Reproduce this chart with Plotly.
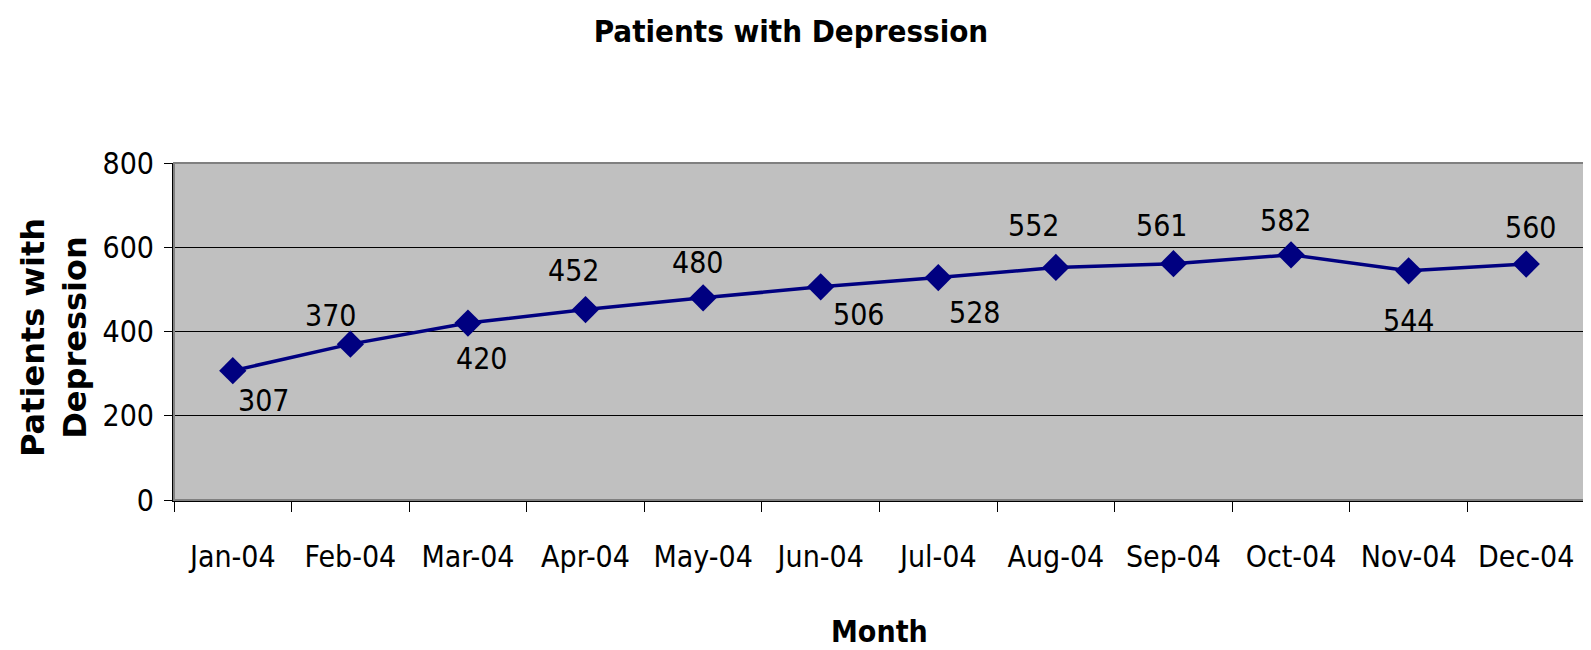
import plotly.graph_objects as go

months = ["Jan-04", "Feb-04", "Mar-04", "Apr-04", "May-04", "Jun-04",
          "Jul-04", "Aug-04", "Sep-04", "Oct-04", "Nov-04", "Dec-04"]
patients = [307, 370, 420, 452, 480, 506, 528, 552, 561, 582, 544, 560]

# label offsets (pixels, style only)
label_dx = [31, -19, 14, -11, -5, 38, 36, -22, -11, -5, 0, 5]
label_dy = [29, -28, 35, -39, -35, 27, 34, -41, -38, -34, 49, -36]

NARROW = "DejaVu Sans Condensed, Liberation Sans Narrow, Liberation Sans, Arial"

W, H = 1591, 650
OFF = 8  # default body margin of the html page
# desired page positions of plot area
PL, PR, PT, PB = 174, 1585, 163, 500
L = PL - OFF
T = PT - OFF
R = W - (PR - OFF)
B = H - (PB - OFF)
pw = PR - PL
ph = PB - PT

fig = go.Figure()
fig.add_trace(go.Scatter(
    x=months, y=patients, mode="lines+markers",
    line=dict(color="#000080", width=3.5),
    marker=dict(symbol="diamond", size=21, color="#000080"),
    cliponaxis=False, showlegend=False,
))

annotations = [
    dict(text=str(v), x=m, y=v, xref="x", yref="y", showarrow=False,
         xshift=dx * 1.015, yshift=-dy * 1.014, xanchor="center", yanchor="middle",
         font=dict(family=NARROW, size=30, color="black"))
    for m, v, dx, dy in zip(months, patients, label_dx, label_dy)
]
annotations += [
    dict(text="<b>Patients with<br>Depression</b>", xref="paper", yref="paper",
         x=(54 - PL) / pw, y=(PB - 338) / ph, textangle=-90, showarrow=False,
         xanchor="center", yanchor="middle",
         font=dict(family="DejaVu Sans, Liberation Sans, Arial", size=32, color="black")),
    dict(text="<b>Month</b>", xref="paper", yref="paper", x=0.5,
         y=(PB - 631) / ph, showarrow=False, xanchor="center", yanchor="middle",
         font=dict(family=NARROW, size=30, color="black")),
]

fig.update_layout(
    width=W, height=H,
    margin=dict(l=L, r=R, t=T, b=B),
    paper_bgcolor="white", plot_bgcolor="#C0C0C0",
    title=dict(text="<b>Patients with Depression</b>", x=(791 - OFF) / W, xanchor="center",
               y=1 - (31 - OFF) / H, yanchor="middle",
               font=dict(family=NARROW, size=31, color="black")),
    xaxis=dict(type="category", tickson="boundaries", ticks="outside", ticklen=10,
               tickcolor="black", tickwidth=1, showgrid=False, showline=True,
               linecolor="black", linewidth=2, ticklabelstandoff=29,
               tickangle=0, automargin=False,
               tickfont=dict(family=NARROW, size=30, color="black"),
               range=[-0.5, 11.5]),
    yaxis=dict(range=[0, 800], tickvals=[0, 200, 400, 600, 800], ticks="outside",
               ticklen=8, tickcolor="black", showgrid=True, gridcolor="black",
               gridwidth=1, showline=True, linecolor="black", linewidth=2,
               zeroline=False, ticklabelstandoff=4, automargin=False,
               tickfont=dict(family=NARROW, size=30, color="black")),
    shapes=[dict(type="rect", xref="paper", yref="paper", x0=0, x1=1, y0=0, y1=1,
                 line=dict(color="#808080", width=2), layer="above")],
    annotations=annotations,
)

fig.write_html("out.html")
